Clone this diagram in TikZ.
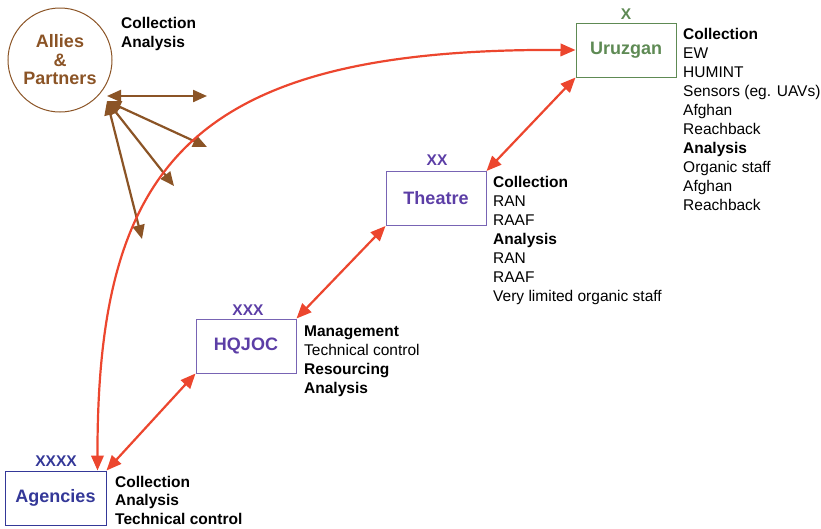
\documentclass[tikz,border=0pt]{standalone}
\usepackage{fontspec}
\setmainfont{Liberation Sans}
\usetikzlibrary{arrows.meta}
\definecolor{allybrown}{RGB}{139,84,38}
\definecolor{urugreen}{RGB}{94,138,84}
\definecolor{thpurple}{RGB}{92,62,166}
\definecolor{thborder}{RGB}{120,100,180}
\definecolor{agblue}{RGB}{52,56,152}
\definecolor{linkred}{RGB}{236,70,46}
\begin{document}
\begin{tikzpicture}[x=1pt,y=-1pt,
  box/.style={draw, line width=1pt, minimum width=100pt, minimum height=54pt, inner sep=0pt,
    font=\fontsize{18}{19}\selectfont\bfseries},
  rank/.style={inner sep=0pt, font=\fontsize{15.5}{16}\selectfont\bfseries},
  list/.style={anchor=north west, align=left, inner sep=0pt, font=\fontsize{15.5}{19}\selectfont},
  redarrow/.style={draw=linkred, line width=2.2pt, {Triangle[length=15pt,width=12.5pt]}-{Triangle[length=15pt,width=12.5pt]}},
  brownarrow/.style={draw=allybrown, line width=2.2pt, {Triangle[length=14pt,width=12pt]}-{Triangle[length=14pt,width=12pt]}}
]
\useasboundingbox (0,0) rectangle (821,528);

% Allies & Partners
\node[circle, draw=allybrown, line width=1pt, minimum size=104pt, inner sep=0pt, align=center,
  text=allybrown, font=\fontsize{18}{18.5}\selectfont\bfseries] (allies) at (60,60) {Allies\\\&\\Partners};
\node[list, font=\fontsize{15.5}{19}\selectfont\bfseries] (allieslist) at (121,17.5) {Collection\\Analysis};

% boxes
\node[box, draw=urugreen, text=urugreen] (uru) at (626,50) {Uruzgan};
\node[rank, text=urugreen] (uruR) at (626,14) {X};
\node[box, draw=thborder, text=thpurple] (theatre) at (436,198.5) {Theatre};
\node[rank, text=thpurple] (theatreR) at (437,160) {XX};
\node[box, draw=thborder, text=thpurple] (hqjoc) at (246,346) {HQJOC};
\node[rank, text=thpurple] (hqjocR) at (248,310) {XXX};
\node[box, draw=agblue, text=agblue, minimum width=101pt] (agencies) at (55.5,498) {Agencies};
\node[rank, text=agblue] (agenciesR) at (56,461) {XXXX};

% lists
\node[list] (urulist) at (683,28) {\textbf{Collection}\\EW\\HUMINT\\Sensors (eg. UAVs)\\Afghan\\Reachback\\\textbf{Analysis}\\Organic staff\\Afghan\\Reachback};
\node[list] (thlist) at (493,176) {\textbf{Collection}\\RAN\\RAAF\\\textbf{Analysis}\\RAN\\RAAF\\Very limited organic staff};
\node[list] (hqlist) at (304,326) {\textbf{Management}\\Technical control\\\textbf{Resourcing}\\\textbf{Analysis}};
\node[list, font=\fontsize{15.5}{18.5}\selectfont\bfseries] (aglist) at (115,476) {Collection\\Analysis\\Technical control};

% brown arrows
\coordinate (hub) at (107,101);
\coordinate (hubh) at (107,96);
\coordinate (b1) at (207,96);
\coordinate (b2) at (207,147);
\coordinate (b3) at (174,186);
\coordinate (b4) at (142,239);
\draw[brownarrow] (hubh) -- (b1);
\draw[brownarrow] (hub) -- (b2);
\draw[brownarrow] (hub) -- (b3);
\draw[brownarrow] (hub) -- (b4);

% red links
\draw[redarrow] (agencies.north east) -- (hqjoc.south west);
\draw[redarrow] (hqjoc.north east) -- (theatre.south west);
\draw[redarrow] (theatre.north east) -- (uru.south west);
\draw[redarrow] ([xshift=-9pt]agencies.north east) .. controls (97,165) and (190,48) .. (uru.west);
\end{tikzpicture}
\end{document}
